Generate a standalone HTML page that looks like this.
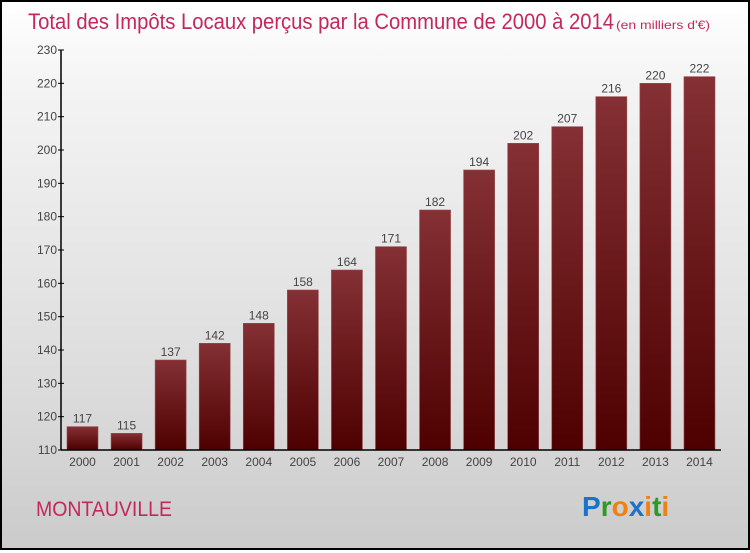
<!DOCTYPE html>
<html><head><meta charset="utf-8"><style>
html,body{margin:0;padding:0}
body{width:750px;height:550px;overflow:hidden}
#c{position:relative;width:746px;height:546px;border:2px solid #000;background:linear-gradient(#fff,#f4f4f4 15%,#dcdcdc 70%,#cbcbcb);font-family:"Liberation Sans",sans-serif}
</style></head><body>
<div id="c">
<svg id="s" width="746" height="546">
<defs><linearGradient id="g" x1="0" y1="0" x2="0" y2="1"><stop offset="0" stop-color="#843034"/><stop offset="1" stop-color="#4e0000"/></linearGradient></defs>
<text x="26" y="27" font-size="22" fill="#c4285a" textLength="586" lengthAdjust="spacingAndGlyphs">Total des Impôts Locaux perçus par la Commune de 2000 à 2014</text>
<text x="614" y="27" font-size="12" fill="#c4285a" textLength="94" lengthAdjust="spacingAndGlyphs">(en milliers d'€)</text>
<text x="34" y="514" font-size="21" fill="#c4285a" textLength="136" lengthAdjust="spacingAndGlyphs">MONTAUVILLE</text>
<text x="580" y="514" font-size="28" font-weight="bold"><tspan fill="#1a73c8">P</tspan><tspan fill="#2a9a2a">r</tspan><tspan fill="#f08010">o</tspan><tspan fill="#1a73c8">x</tspan><tspan fill="#f08010">i</tspan><tspan fill="#2a9a2a">t</tspan><tspan fill="#f08010">i</tspan></text>
<g id="plot"></g>
</svg>
</div>
<script>
const categories=["2000","2001","2002","2003","2004","2005","2006","2007","2008","2009","2010","2011","2012","2013","2014"];
const values=[117,115,137,142,148,158,164,171,182,194,202,207,216,220,222];
const yTicks=[110,120,130,140,150,160,170,180,190,200,210,220,230];
const NS="http://www.w3.org/2000/svg";
const g=document.getElementById('plot');
const ox=-2,oy=-2;
function y(v){return 450+oy-(v-110)*400/120;}
function x(i){return 67+ox+i*44.07;}
function mk(t,a){const e=document.createElementNS(NS,t);for(const k in a)e.setAttribute(k,a[k]);g.appendChild(e);return e;}
let ax=mk('line',{x1:61+ox,y1:y(230),x2:61+ox,y2:y(110),stroke:'#000','stroke-width':1.5});


yTicks.forEach(v=>{
 let t=mk('line',{x1:58+ox,x2:64+ox,y1:y(v),y2:y(v),stroke:'#000'});
 
 
 let l=mk('text',{x:57+ox,y:y(v)+4,'text-anchor':'end','font-size':12,fill:'#444'});
 l.textContent=v;
 
 
});
values.forEach((v,i)=>{
 let r=mk('rect',{x:x(i),y:y(v),width:31,height:y(110)-y(v),fill:'url(#g)',stroke:'#9a4a4e','stroke-width':0.6});
 
 
 let l=mk('text',{x:x(i)+15.5,y:y(v)-4,'text-anchor':'middle','font-size':12,fill:'#444'});
 l.textContent=v;
 
 
 let c=mk('text',{x:x(i)+15.5,y:y(110)+16,'text-anchor':'middle','font-size':12,fill:'#444'});
 c.textContent=categories[i];
 
 
});
let bx=mk('line',{x1:61+ox,y1:y(110),x2:721+ox,y2:y(110),stroke:'#000','stroke-width':1.5});


</script>
</body></html>
